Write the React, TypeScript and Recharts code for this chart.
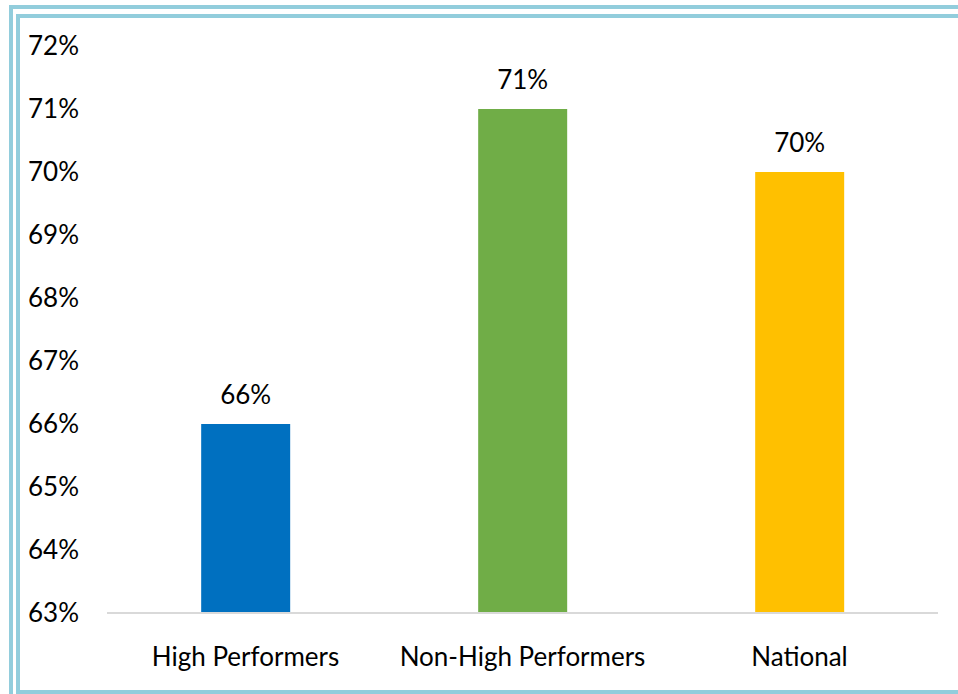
import { BarChart, Bar, XAxis, YAxis, Cell, LabelList } from 'recharts';

const categories = ['High Performers', 'Non-High Performers', 'National'];
const values = [66, 71, 70];
const barColors = ['#0070C0', '#70AD47', '#FFC000'];
const yTicks = [63, 64, 65, 66, 67, 68, 69, 70, 71, 72];

const data = categories.map((name, i) => ({ name, value: values[i] }));

const font = 'Lato, "Open Sans", sans-serif';
const frame = '#92CDDC';

export default function App() {
  return (
    <div style={{ position: 'absolute', left: 0, top: 0, width: 958, height: 694, background: '#fff', overflow: 'hidden', fontFamily: font }}>
      <div style={{ position: 'absolute', left: 9, top: 5, width: 980, height: 720, border: `4px solid ${frame}` }} />
      <div style={{ position: 'absolute', left: 16, top: 14, width: 980, height: 672, border: `4px solid ${frame}` }} />
      <div style={{ position: 'absolute', left: 0, top: 0 }}>
        <BarChart width={958} height={694} data={data} margin={{ top: 46, right: 20, bottom: 51, left: 0 }} barCategoryGap="34%">
          <XAxis
            dataKey="name"
            tickLine={false}
            axisLine={{ stroke: '#D9D9D9', strokeWidth: 2 }}
            tickMargin={29}
            tick={{ fill: '#000', fontSize: 26, fontFamily: font }}
            interval={0}
          />
          <YAxis
            width={107}
            domain={[63, 72]}
            ticks={yTicks}
            axisLine={false}
            tickLine={false}
            tickMargin={22}
            tickFormatter={(v) => `${v}%`}
            tick={{ fill: '#000', fontSize: 26, fontFamily: font }}
            allowDataOverflow
          />
          <Bar dataKey="value" isAnimationActive={false}>
            {data.map((d, i) => (
              <Cell key={d.name} fill={barColors[i]} />
            ))}
            <LabelList
              dataKey="value"
              position="top"
              offset={20}
              formatter={(v: number) => `${v}%`}
              style={{ fill: '#000', fontSize: 26, fontFamily: font }}
            />
          </Bar>
        </BarChart>
      </div>
    </div>
  );
}
